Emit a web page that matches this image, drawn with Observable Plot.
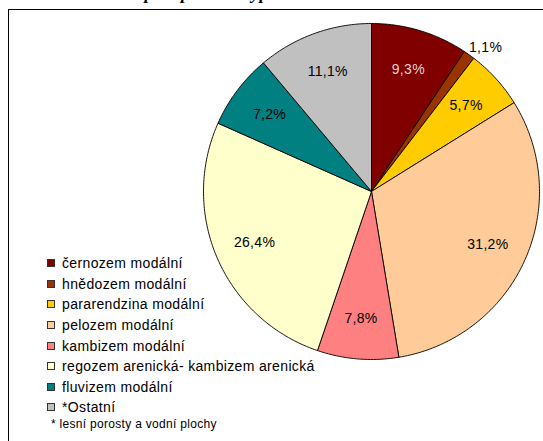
<!DOCTYPE html>
<html>
<head>
<meta charset="utf-8">
<script src="https://cdn.jsdelivr.net/npm/d3@7"></script>
<script src="https://cdn.jsdelivr.net/npm/@observablehq/plot@0.6"></script>
<style>
  html, body { margin: 0; padding: 0; background: #fff; }
  #wrap { position: relative; width: 543px; height: 441px; overflow: hidden; background: #fff; font-family: "Liberation Sans", Arial, sans-serif; }
  #title { position: absolute; left: 20px; top: -17px; font-family: "Liberation Serif", "Times New Roman", serif; font-weight: bold; font-style: italic; font-size: 18px; white-space: nowrap; color: #000; }
  #frame { position: absolute; left: 8px; top: 9px; width: 600px; height: 500px; border: 1.5px solid #000; box-sizing: border-box; }
  #chart { position: absolute; left: 0; top: 0; }
  #legend { position: absolute; left: 47px; top: 253px; font-size: 14px; letter-spacing: 0.35px; color: #000; }
  .row { height: 20.6px; display: flex; align-items: center; white-space: nowrap; }
  .sw { width: 6px; height: 6px; border: 1px solid #333; margin-right: 7px; flex: none; }
  #note { position: absolute; left: 51px; top: 417px; font-size: 12px; letter-spacing: 0.3px; color: #000; white-space: nowrap; }
</style>
</head>
<body>
<div id="wrap">
  <div id="title">Obr. č. 5: Zastoupení půdních typů</div>
  <div id="frame"></div>
  <div id="chart"></div>
  <div id="legend"></div>
  <div id="note">* lesní porosty a vodní plochy</div>
</div>
<script>
const categories = ["černozem modální", "hnědozem modální", "pararendzina modální", "pelozem modální", "kambizem modální", "regozem arenická- kambizem arenická", "fluvizem modální", "*Ostatní"];
const values = [9.3, 1.1, 5.7, 31.2, 7.8, 26.4, 7.2, 11.1];
const labels = ["9,3%", "1,1%", "5,7%", "31,2%", "7,8%", "26,4%", "7,2%", "11,1%"];
const colors = ["#800000", "#993300", "#FFCC00", "#FFCC99", "#FF8080", "#FFFFCC", "#008080", "#C0C0C0"];

const arcs = d3.pie().sort(null).value(d => d)(values);

// slice outlines (unit circle, angle 0 at 12 o'clock, clockwise)
const slicePts = [];
arcs.forEach((a, i) => {
  const name = categories[i];
  slicePts.push({name, x: 0, y: 0});
  const n = Math.max(2, Math.ceil((a.endAngle - a.startAngle) / (Math.PI / 180)));
  for (let k = 0; k <= n; k++) {
    const t = a.startAngle + (a.endAngle - a.startAngle) * k / n;
    slicePts.push({name, x: Math.sin(t), y: Math.cos(t)});
  }
  slicePts.push({name, x: 0, y: 0});
});

const labelData = arcs.map((a, i) => {
  const mid = (a.startAngle + a.endAngle) / 2;
  const outside = values[i] < 2;
  const r = outside ? 1.05 : 0.76;
  return {text: labels[i], outside, x: r * Math.sin(mid), y: r * Math.cos(mid), light: !outside && d3.lab(colors[i]).l < 35};
});

const font = "'Liberation Sans', Arial, sans-serif";
const chart = Plot.plot({
  width: 543,
  height: 441,
  marginLeft: 203,
  marginRight: 4,
  marginTop: 23,
  marginBottom: 82,
  x: {domain: [-1, 1], axis: null},
  y: {domain: [-1, 1], axis: null},
  color: {type: "ordinal", domain: categories, range: colors},
  style: {background: "transparent", fontFamily: font},
  marks: [
    Plot.line(slicePts, {x: "x", y: "y", z: "name", fill: "name", stroke: "#000", strokeWidth: 0.9, strokeLinejoin: "round"}),
    Plot.text(labelData.filter(d => !d.light && !d.outside), {x: "x", y: "y", text: "text", fill: "#000", fontSize: 14, fontFamily: font}),
    Plot.text(labelData.filter(d => d.outside), {x: "x", y: "y", text: "text", fill: "#000", fontSize: 14, fontFamily: font, textAnchor: "start", dx: -5}),
    Plot.text(labelData.filter(d => d.light), {x: "x", y: "y", text: "text", fill: "#E2CFCF", fontSize: 14, fontFamily: font})
  ]
});
chart.querySelectorAll("text").forEach(t => t.setAttribute("letter-spacing", "0.3"));
document.getElementById("chart").appendChild(chart);

const legend = document.getElementById("legend");
categories.forEach((c, i) => {
  const row = document.createElement("div");
  row.className = "row";
  const sw = document.createElement("span");
  sw.className = "sw";
  sw.style.background = colors[i];
  const tx = document.createElement("span");
  tx.textContent = c;
  row.appendChild(sw);
  row.appendChild(tx);
  legend.appendChild(row);
});
</script>
</body>
</html>
